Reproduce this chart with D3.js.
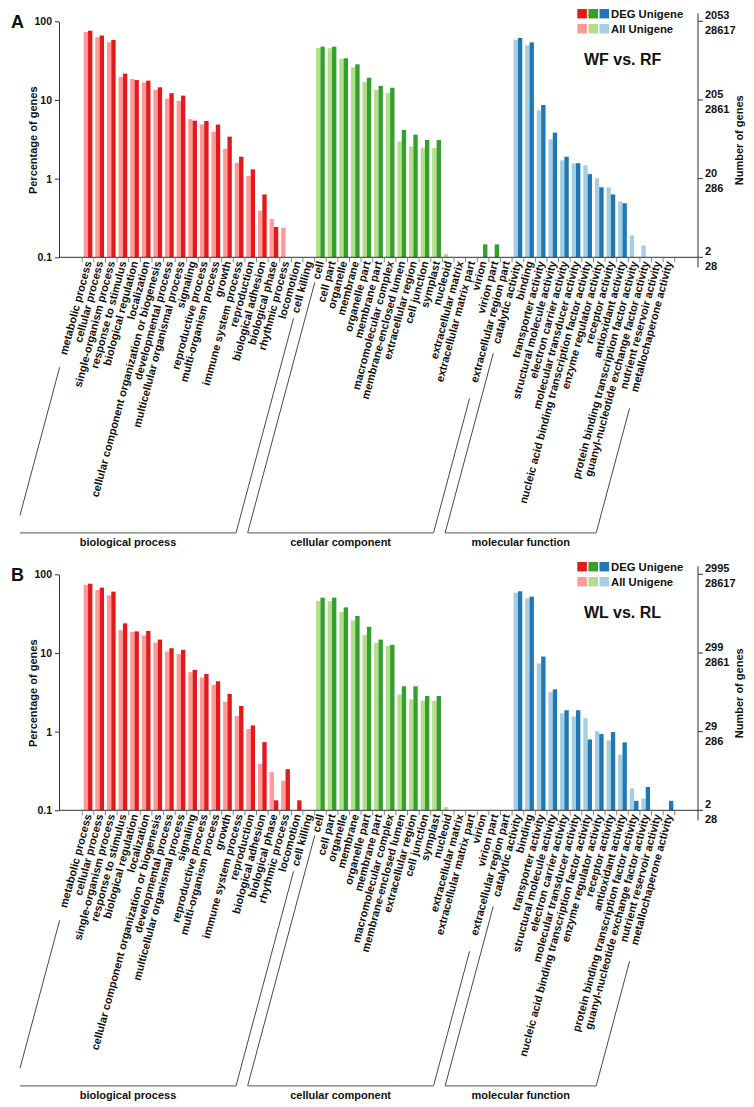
<!DOCTYPE html>
<html><head><meta charset="utf-8">
<script src="https://cdn.jsdelivr.net/npm/d3@7"></script>
<style>
body{margin:0;background:#fff}
svg{display:block}
text{font-family:"Liberation Sans",Arial,Helvetica,sans-serif;font-weight:bold;fill:#111}
</style>
</head><body>
<svg id="chart" width="754" height="1107"></svg>
<script>
// ---------------- DATA ----------------
const categories = [
  "metabolic process","cellular process","single-organism process","response to stimulus",
  "biological regulation","localization","cellular component organization or biogenesis",
  "developmental process","multicellular organismal process","signaling","reproductive process",
  "multi-organism process","growth","immune system process","reproduction","biological adhesion",
  "biological phase","rhythmic process","locomotion","cell killing",
  "cell","cell part","organelle","membrane","organelle part","membrane part","macromolecular complex",
  "membrane-enclosed lumen","extracellular region","cell junction","symplast","nucleoid",
  "extracellular matrix","extracellular matrix part","virion","virion part","extracellular region part",
  "catalytic activity","binding","transporter activity","structural molecule activity",
  "electron carrier activity","molecular transducer activity",
  "nucleic acid binding transcription factor activity","enzyme regulator activity","receptor activity",
  "antioxidant activity","protein binding transcription factor activity",
  "guanyl-nucleotide exchange factor activity","nutrient reservoir activity","metallochaperone activity"
];
const groupNames = ["biological process","cellular component","molecular function"];
const groupSizes = [20, 17, 14];
const seriesNames = ["DEG Unigene","All Unigene"];

// Percentage of genes, All Unigene (same background set in both panels)
const allUnigene = [
  73, 63, 54, 19.5, 18.5, 16.7, 13.5, 10.4, 9.7, 5.7, 4.9, 3.94, 2.4, 1.59, 1.08, 0.39, 0.306, 0.238, 0, 0,
  45.8, 45.5, 33.3, 26, 16.9, 13.4, 12.25, 2.96, 2.57, 2.48, 2.46, 0.11, 0, 0, 0, 0, 0,
  58.4, 49.5, 7.36, 3.17, 1.71, 1.56, 1.48, 1.01, 0.773, 0.51, 0.19, 0.141, 0, 0
];
// Percentage of genes, DEG Unigene, WF vs. RF
const degWF_RF = [
  76, 66, 58, 21.6, 17.9, 17.6, 14.5, 12.2, 11.35, 5.46, 5.41, 4.86, 3.42, 1.9, 1.31, 0.63, 0.243, 0, 0, 0,
  47.6, 47.6, 33.9, 28.4, 19.2, 15.1, 14.3, 4.16, 3.62, 3.1, 3.1, 0, 0, 0, 0.146, 0.146, 0,
  61.4, 54, 8.63, 3.85, 1.9, 1.57, 1.14, 0.776, 0.63, 0.486, 0, 0, 0, 0
];
// Percentage of genes, DEG Unigene, WL vs. RL
const degWL_RL = [
  76, 67.7, 60.2, 23.8, 18.8, 19.1, 14.8, 11.5, 10.96, 6.1, 5.42, 4.37, 3.01, 2.12, 1.2, 0.736, 0.134, 0.333, 0.134, 0,
  50.4, 50.4, 38, 29.5, 21.5, 14.8, 12.7, 3.77, 3.77, 2.84, 2.84, 0, 0, 0, 0, 0, 0,
  60.8, 52, 9.0, 3.45, 1.87, 1.87, 0.796, 0.93, 0.987, 0.73, 0.132, 0.198, 0, 0.132
];
const pctTicks = [0.1, 1, 10, 100];
const pctTickLabels = ["0.1", "1", "10", "100"];
const allCountTicks = ["28", "286", "2861", "28617"];
const degCountTicksWF = ["2", "20", "205", "2053"];
const degCountTicksWL = ["2", "29", "299", "2995"];

const panels = [
  {letter: "A", title: "WF vs. RF", deg: degWF_RF, degTicks: degCountTicksWF, dy: 0},
  {letter: "B", title: "WL vs. RL", deg: degWL_RL, degTicks: degCountTicksWL, dy: 553}
];

// ---------------- STYLE / LAYOUT ----------------
const colors = [["#e31a1c", "#fb9a99"], ["#33a02c", "#b2df8a"], ["#1f78b4", "#a6cee3"]]; // [DEG, All]
const X0 = 59, X1 = 698, Y_BOT = 257.3, Y_TOP = 21.3;
const ANG = 75, rad = ANG * Math.PI / 180;
const dirX = Math.cos(rad) / Math.sin(rad); // x change per unit y going down the label direction
// bracket line tops (offset below the axis) [left, right] per group; bottom offset
const bracketTops = [[110, 61], [25, 141], [96, 151]];
const bracketBottom = 275.5;

const svg = d3.select("#chart");
const n = categories.length;
const step = (X1 - X0) / (n + 4);
const x = d3.scaleBand().domain(categories).range([X0 + 2 * step, X1 - 2 * step])
  .paddingInner(0.25).paddingOuter(0.125);
const xi = d3.scaleBand().domain(["all", "deg"]).range([0, x.bandwidth()]);
const groupOf = [];
groupSizes.forEach((sz, gi) => { for (let k = 0; k < sz; k++) groupOf.push(gi); });
const groupStart = groupSizes.map((sz, gi) => d3.sum(groupSizes.slice(0, gi)));

panels.forEach(p => {
  const g = svg.append("g").attr("transform", `translate(0,${p.dy})`);
  const y = d3.scaleLog().domain([0.1, 100]).range([Y_BOT, Y_TOP]);

  // bars
  const bars = [];
  categories.forEach((c, i) => {
    bars.push({c, key: "all", v: allUnigene[i], col: colors[groupOf[i]][1]});
    bars.push({c, key: "deg", v: p.deg[i], col: colors[groupOf[i]][0]});
  });
  g.append("g").selectAll("rect").data(bars.filter(b => b.v > 0.1)).join("rect")
    .attr("x", b => x(b.c) + xi(b.key))
    .attr("width", xi.bandwidth())
    .attr("y", b => y(b.v))
    .attr("height", b => Y_BOT - y(b.v))
    .attr("fill", b => b.col);

  // left axis
  const ax = g.append("g").attr("transform", `translate(${X0},0)`)
    .call(d3.axisLeft(y).tickValues(pctTicks).tickFormat((d, i) => pctTickLabels[i]).tickSize(4).tickSizeOuter(0).tickPadding(3));
  ax.select(".domain").attr("stroke", "#333");
  ax.selectAll(".tick line").attr("stroke", "#333");
  ax.selectAll(".tick text").attr("font-size", "10.5px").attr("font-family", null).attr("fill", "#111");

  // bottom axis line + ticks at category boundaries
  g.append("line").attr("x1", X0).attr("x2", X1).attr("y1", Y_BOT).attr("y2", Y_BOT).attr("stroke", "#333");
  const bounds = categories.map(c => x(c) - x.step() * 0.125);
  bounds.push(x(categories[n - 1]) + x.step() * 0.875);
  g.append("g").selectAll("line").data(bounds).join("line")
    .attr("x1", d => d).attr("x2", d => d).attr("y1", Y_BOT).attr("y2", Y_BOT + 5)
    .attr("stroke", "#666").attr("stroke-width", 0.8);

  // category labels
  g.append("g").selectAll("text").data(categories).join("text")
    .attr("transform", c => `translate(${x(c) + x.bandwidth() / 2},${Y_BOT + 4}) rotate(${-ANG})`)
    .attr("text-anchor", "end").attr("dy", "0.35em").attr("font-size", "11px")
    .text(c => c);

  // right axis
  const yr0 = y(100) - 8, yr1 = Y_BOT + 10;
  g.append("line").attr("x1", X1).attr("x2", X1).attr("y1", yr0).attr("y2", yr1).attr("stroke", "#333");
  pctTicks.forEach((t, i) => {
    const ty = y(t);
    g.append("line").attr("x1", X1).attr("x2", X1 + 5).attr("y1", ty).attr("y2", ty).attr("stroke", "#333");
    g.append("text").attr("x", X1 + 7).attr("y", ty - 2).attr("font-size", "11px").text(p.degTicks[i]);
    g.append("text").attr("x", X1 + 7).attr("y", ty + 13).attr("font-size", "11px").text(allCountTicks[i]);
  });

  // axis titles
  g.append("text").attr("transform", `translate(33,${(Y_TOP + Y_BOT) / 2 + 1}) rotate(-90)`)
    .attr("text-anchor", "middle").attr("dy", "0.35em").attr("font-size", "11px").text("Percentage of genes");
  g.append("text").attr("transform", `translate(739,${(Y_TOP + Y_BOT) / 2 + 1}) rotate(-90)`)
    .attr("text-anchor", "middle").attr("dy", "0.35em").attr("font-size", "11px").text("Number of genes");

  // panel letter + title
  g.append("text").attr("x", 11).attr("y", 28).attr("font-size", "18px").text(p.letter);
  g.append("text").attr("x", 584).attr("y", 65).attr("font-size", "16px").text(p.title);

  // legend
  const legRows = [{name: seriesNames[0], k: 0, y: 9}, {name: seriesNames[1], k: 1, y: 24}];
  legRows.forEach(r => {
    colors.forEach((cc, ci) => {
      g.append("rect").attr("x", 577.3 + ci * 11.1).attr("y", r.y).attr("width", 9.6).attr("height", 9.4).attr("fill", cc[r.k]);
    });
    g.append("text").attr("x", 611).attr("y", r.y + 8.8).attr("font-size", "11.3px").text(r.name);
  });

  // group brackets
  const yb = Y_BOT + bracketBottom;
  groupNames.forEach((gn, gi) => {
    const i0 = groupStart[gi], i1 = i0 + groupSizes[gi] - 1;
    const ax0 = x(categories[i0]) + x.bandwidth() / 2, ax1 = x(categories[i1]) + x.bandwidth() / 2;
    const ay = Y_BOT + 4;
    const at = (axx, yy) => axx - (yy - ay) * dirX;
    // left line
    const lTop = Y_BOT + bracketTops[gi][0];
    let lBotY = yb, lBotX = at(ax0, yb);
    if (lBotX < 20) { lBotX = 20; lBotY = ay + (ax0 - 20) / dirX; }
    g.append("line").attr("x1", at(ax0, lTop)).attr("y1", lTop).attr("x2", lBotX).attr("y2", lBotY)
      .attr("stroke", "#333").attr("stroke-width", 0.9);
    const rTop = Y_BOT + bracketTops[gi][1];
    const rBotX = at(ax1, yb);
    g.append("line").attr("x1", at(ax1, rTop)).attr("y1", rTop).attr("x2", rBotX).attr("y2", yb)
      .attr("stroke", "#333").attr("stroke-width", 0.9);
    g.append("line").attr("x1", lBotX).attr("x2", rBotX).attr("y1", yb).attr("y2", yb)
      .attr("stroke", "#777").attr("stroke-width", 1.3);
    g.append("text").attr("x", (lBotX + rBotX) / 2).attr("y", yb + 13).attr("text-anchor", "middle")
      .attr("font-size", "11px").text(gn);
  });
});
</script>
</body></html>
